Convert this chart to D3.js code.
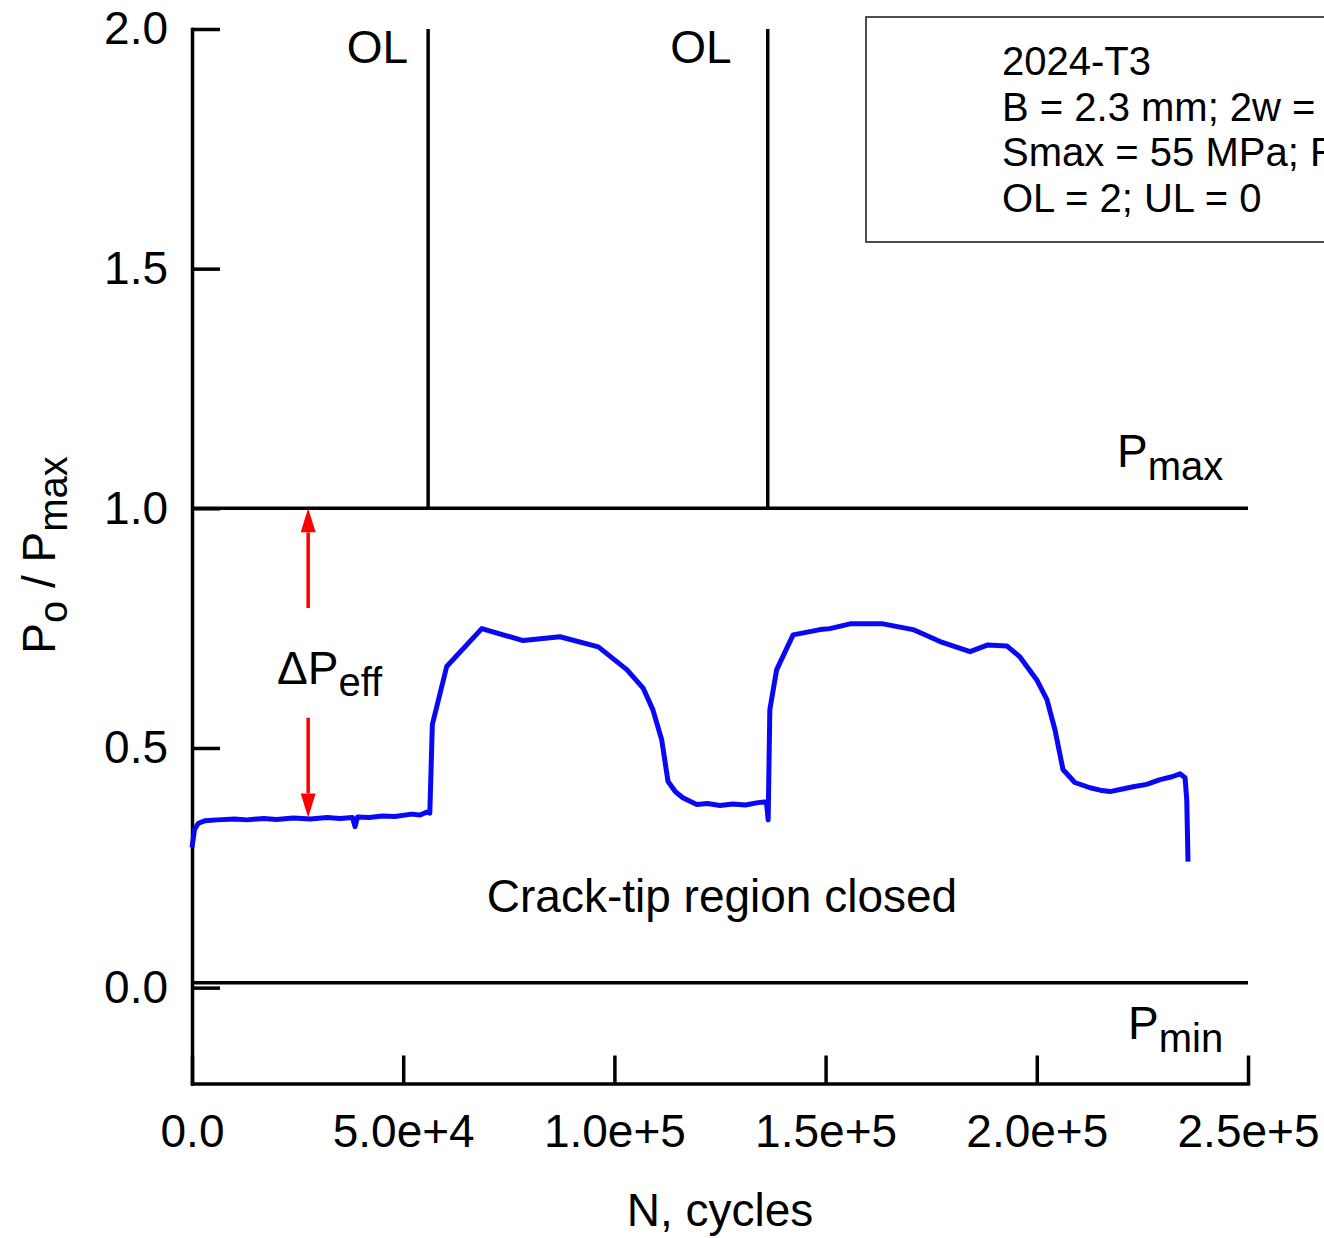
<!DOCTYPE html>
<html><head><meta charset="utf-8">
<script src="https://cdn.jsdelivr.net/npm/d3@7"></script>
<style>
body{margin:0;background:#fff;}
svg text{font-family:"Liberation Sans",Arial,sans-serif;fill:#000;}
</style></head>
<body><svg id="c" width="1324" height="1238"></svg>
<script>
// ---- data ----
const xTicks = [0, 50000, 100000, 150000, 200000, 250000];
const yTicks = [0.0, 0.5, 1.0, 1.5, 2.0];
const cycles = [0, 600, 1500, 3000, 6000, 10000, 13000, 17000, 20000, 24000, 28000, 32000, 35000, 38000, 38600, 39200, 42000, 45000, 48000, 52000, 54000, 55500, 56300, 56900, 60300, 68600, 78400, 87100, 96200, 103000, 106800, 109100, 111200, 112700, 114500, 116200, 119500, 122000, 125000, 128000, 131000, 134000, 136000, 136400, 136800, 138400, 142300, 148700, 151000, 155800, 163600, 170700, 177100, 184200, 188400, 192900, 196000, 200000, 202400, 204300, 206200, 209000, 212600, 215000, 217300, 220000, 222800, 226000, 229200, 232000, 233900, 235100, 235500, 235800];
const ratio  = [0.292, 0.330, 0.343, 0.348, 0.350, 0.352, 0.350, 0.353, 0.351, 0.354, 0.352, 0.355, 0.353, 0.355, 0.336, 0.356, 0.355, 0.358, 0.357, 0.362, 0.360, 0.366, 0.364, 0.549, 0.670, 0.749, 0.724, 0.732, 0.711, 0.663, 0.625, 0.580, 0.517, 0.430, 0.408, 0.396, 0.382, 0.384, 0.380, 0.383, 0.381, 0.386, 0.388, 0.350, 0.580, 0.663, 0.736, 0.747, 0.749, 0.759, 0.759, 0.747, 0.722, 0.701, 0.715, 0.713, 0.690, 0.642, 0.601, 0.538, 0.455, 0.428, 0.417, 0.412, 0.409, 0.414, 0.419, 0.424, 0.434, 0.440, 0.446, 0.438, 0.392, 0.263];
const overloadN = [55900, 136300];
const overloadLabelGap = [20, 36];
const pmaxLevel = 1.0;
const pminLevel = 0.01;
const arrowN = 27500;
const arrowUp = [0.792, 1.0];
const arrowDown = [0.563, 0.355];
const legendLines = ["2024-T3", "B = 2.3 mm; 2w = 76 mm", "Smax = 55 MPa; R = 0", "OL = 2; UL = 0"];

// ---- chart ----
const svg = d3.select("#c");
const x = d3.scaleLinear().domain([0, 250000]).range([192, 1248]);
const y = d3.scaleLinear().domain([-0.2, 2.0]).range([1083.5, 29]);
const FS = 46;

// legend box
svg.append("rect").attr("x", 866).attr("y", 17).attr("width", 500).attr("height", 225)
  .attr("fill", "none").attr("stroke", "#222").attr("stroke-width", 1.6);
legendLines.forEach((t, i) => {
  svg.append("text").attr("x", 1002).attr("y", 75 + i * 45.5).attr("font-size", 40).text(t);
});

// axes
const yAxis = d3.axisLeft(y).tickValues(yTicks).tickFormat(d3.format(".1f"))
  .tickSizeInner(-28).tickSizeOuter(0).tickPadding(24);
const gy = svg.append("g").attr("transform", `translate(${x(0)},0)`).call(yAxis);
const xAxis = d3.axisBottom(x).tickValues(xTicks)
  .tickFormat(d => d === 0 ? "0.0" : d3.format(".1e")(d))
  .tickSizeInner(-28).tickSizeOuter(0).tickPadding(31);
const gx = svg.append("g").attr("transform", `translate(0,${y(-0.2)})`).call(xAxis);
[gx, gy].forEach(g => {
  g.select(".domain").attr("stroke", "#000").attr("stroke-width", 3.5).attr("stroke-linecap", "square");
  g.selectAll(".tick line").attr("stroke", "#000").attr("stroke-width", 3.5);
  g.selectAll(".tick text").attr("font-size", FS).attr("font-family", "Liberation Sans, Arial, sans-serif").attr("fill", "#000");
});

// reference lines
const ref = svg.append("g").attr("stroke", "#000").attr("stroke-width", 3.5);
ref.append("line").attr("x1", x(0)).attr("x2", x(250000)).attr("y1", y(pmaxLevel)).attr("y2", y(pmaxLevel));
ref.append("line").attr("x1", x(0)).attr("x2", x(250000)).attr("y1", y(pminLevel)).attr("y2", y(pminLevel));
overloadN.forEach((n, i) => {
  ref.append("line").attr("x1", x(n)).attr("x2", x(n)).attr("y1", y(2.0)).attr("y2", y(1.0));
  svg.append("text").attr("x", x(n) - overloadLabelGap[i]).attr("y", 63).attr("text-anchor", "end").attr("font-size", FS).text("OL");
});

// curve
const line = d3.line().x((d, i) => x(cycles[i])).y(d => y(d));
svg.append("path").datum(ratio).attr("d", line).attr("fill", "none")
  .attr("stroke", "#0808f5").attr("stroke-width", 5).attr("stroke-linejoin", "round");

// red arrows
function arrow(from, to) {
  const xa = x(arrowN), y0 = y(from), y1 = y(to);
  const dir = y1 < y0 ? 1 : -1; // 1 = upward
  const headLen = 24;
  svg.append("line").attr("x1", xa).attr("x2", xa).attr("y1", y0).attr("y2", y1 + dir * headLen)
    .attr("stroke", "#ff0000").attr("stroke-width", 3.5);
  svg.append("path").attr("d", `M${xa},${y1} L${xa - 7.5},${y1 + dir * headLen} L${xa + 7.5},${y1 + dir * headLen} Z`)
    .attr("fill", "#ff0000");
}
arrow(arrowUp[0], arrowUp[1]);
arrow(arrowDown[0], arrowDown[1]);

// annotations
const dp = svg.append("text").attr("x", 277).attr("y", 684).attr("font-size", FS);
dp.append("tspan").text("\u0394P");
dp.append("tspan").attr("dy", 12).attr("font-size", 40).text("eff");

const pm = svg.append("text").attr("x", 1117).attr("y", 467).attr("font-size", FS);
pm.append("tspan").text("P");
pm.append("tspan").attr("dy", 13).attr("font-size", 40).text("max");

const pn = svg.append("text").attr("x", 1128).attr("y", 1039).attr("font-size", FS);
pn.append("tspan").text("P");
pn.append("tspan").attr("dy", 13).attr("font-size", 40).text("min");

svg.append("text").attr("x", 722).attr("y", 912).attr("text-anchor", "middle").attr("font-size", FS)
  .text("Crack-tip region closed");

svg.append("text").attr("x", 720).attr("y", 1226).attr("text-anchor", "middle").attr("font-size", FS)
  .text("N, cycles");

const yl = svg.append("text").attr("transform", "translate(55,555) rotate(-90)")
  .attr("text-anchor", "middle").attr("font-size", FS);
yl.append("tspan").text("P");
yl.append("tspan").attr("dy", 12).attr("font-size", 40).text("o");
yl.append("tspan").attr("dy", -12).text(" / P");
yl.append("tspan").attr("dy", 12).attr("font-size", 40).text("max");
</script></body></html>
